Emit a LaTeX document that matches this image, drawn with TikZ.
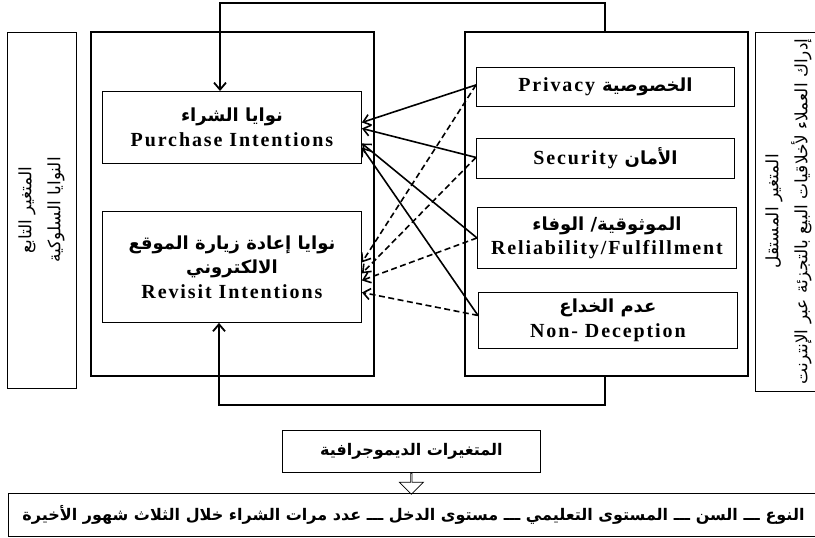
\documentclass[tikz,border=0pt]{standalone}
\usepackage{fontspec}
\setmainfont{Liberation Serif}[LetterSpace=9.5]
\newfontfamily\arabicfont[Script=Arabic]{DejaVu Sans}
\TeXXeTstate=1
\usetikzlibrary{arrows.meta,positioning,shapes.arrows}
\newcommand{\artext}[1]{{\arabicfont\fontsize{18}{24.5}\selectfont\beginR#1\endR}}

\begin{document}
\begin{tikzpicture}[
  x=1pt,
  y=-1pt,
  thinbox/.style={draw, line width=0.8pt, inner sep=0pt},
  bigbox/.style={draw, line width=2.2pt, anchor=north west, minimum width=283pt, minimum height=344pt},
  varbox/.style={draw, line width=0.9pt, anchor=north west, align=center, inner sep=0pt,
    font=\fontsize{20}{24.5}\selectfont\bfseries},
  sidelabel/.style={thinbox, rotate=90, align=center, font=\arabicfont\fontsize{17}{29}\selectfont},
  demobox/.style={draw, line width=0.9pt, anchor=north west, inner sep=0pt,
    font=\arabicfont\fontsize{16}{18}\selectfont\bfseries},
  link/.style={line width=1.6pt, -{Straight Barb[length=7pt,width=11pt]}},
  maybe/.style={link, dash pattern=on 6pt off 3.5pt},
  loopline/.style={line width=1.8pt, -{Straight Barb[length=7pt,width=12pt]}}
]
\useasboundingbox (0,0) rectangle (815,538);

% side labels
\node[sidelabel, minimum width=356pt, minimum height=69pt] (deplabel) at (41.5,210)
  {\beginR المتغير التابع\endR\\\beginR النوايا السلوكية\endR};
\node[sidelabel, minimum width=359pt, minimum height=67pt] (indlabel) at (788.5,211.5)
  {\beginR المتغير المستقل\endR\\\beginR إدراك العملاء لأخلاقيات البيع بالتجزئة عبر الإنترنت\endR};

% dependent side
\node[bigbox] (depbox) at (90,31) {};
\node[varbox, minimum width=259pt, minimum height=72pt] (purch) at (102,91)
  {\artext{نوايا الشراء}\\Purchase Intentions};
\node[varbox, minimum width=259pt, minimum height=111pt] (revis) at (102,211)
  {\artext{نوايا إعادة زيارة الموقع}\\\artext{الالكتروني}\\Revisit Intentions};

% independent side
\node[bigbox] (indbox) at (464,31) {};
\node[varbox, minimum width=258pt, minimum height=39pt] (privacy) at (476,67)
  {Privacy \artext{الخصوصية}};
\node[varbox, minimum width=258pt, minimum height=40pt] (security) at (476,138)
  {Security \artext{الأمان}};
\node[varbox, minimum width=259pt, minimum height=61pt] (reliab) at (477,207)
  {\artext{الموثوقية/ الوفاء}\\Reliability/Fulfillment};
\node[varbox, minimum width=259pt, minimum height=56pt] (nondec) at (478,292)
  {\artext{عدم الخداع}\\Non- Deception};

% demographics
\node[demobox, minimum width=258pt, minimum height=42pt] (demo) at (282,430)
  {\beginR المتغيرات الديموجرافية\endR};
\node[demobox, minimum width=810pt, minimum height=43pt] (demolist) at (8,493)
  {\beginR النوع ـــ السن ـــ المستوى التعليمي ـــ مستوى الدخل ـــ عدد مرات الشراء خلال الثلاث شهور الأخيرة\endR};
\node[single arrow, draw, line width=0.7pt, rotate=-90, anchor=tail, inner sep=0pt,
  minimum height=21pt, minimum width=24pt, single arrow head extend=6pt] (demoarrow)
  at (demo.south) {};

% loops
\coordinate (loopTR) at (605,3);
\coordinate (loopTL) at (220,3);
\coordinate (loopBR) at (605,405);
\coordinate (loopBL) at (219,405);
\draw[loopline] (indbox.north -| loopTR) -- (loopTR) -- (loopTL) -- (loopTL |- purch.north);
\draw[loopline] (indbox.south -| loopBR) -- (loopBR) -- (loopBL) -- (loopBL |- revis.south);

% links to purchase intentions
\draw[link] ([yshift=2pt]privacy.west) -- ([yshift=5pt]purch.east);
\draw[link] ([yshift=1pt]security.west) -- ([yshift=-1pt]purch.east);
\draw[link] (reliab.west) -- ([yshift=-16pt]purch.east);
\draw[link] ([yshift=5pt]nondec.west) -- ([yshift=-20pt]purch.east);

% links to revisit intentions
\draw[maybe] ([yshift=2pt]privacy.west) -- ([yshift=4.5pt]revis.east);
\draw[maybe] ([yshift=1pt]security.west) -- ([yshift=-6.5pt]revis.east);
\draw[maybe] (reliab.west) -- ([yshift=-13.5pt]revis.east);
\draw[maybe] ([yshift=5pt]nondec.west) -- ([yshift=-25.5pt]revis.east);
\end{tikzpicture}
\end{document}
